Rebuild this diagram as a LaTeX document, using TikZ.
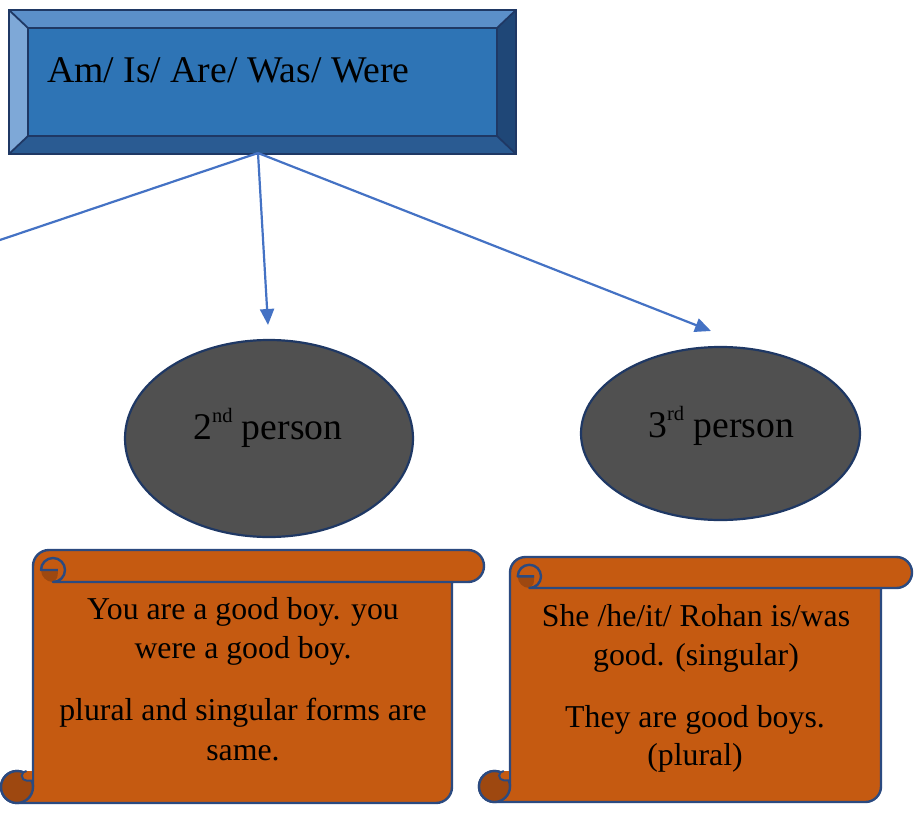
\documentclass[tikz,border=0pt]{standalone}
\usepackage{fontspec}
\setmainfont{Liberation Serif}
\usetikzlibrary{shapes.geometric,arrows.meta}
\definecolor{bevface}{HTML}{2E74B5}
\definecolor{bevtop}{HTML}{5B8FC9}
\definecolor{bevleft}{HTML}{7EA8D7}
\definecolor{bevright}{HTML}{1F4777}
\definecolor{bevbot}{HTML}{2A5B92}
\definecolor{navy}{HTML}{1F3864}
\definecolor{arrowblue}{HTML}{4472C4}
\definecolor{ovalgray}{HTML}{505050}
\definecolor{scrollor}{HTML}{C55A11}
\definecolor{scrolldk}{HTML}{9E4810}
\definecolor{scrollline}{HTML}{2B4A80}

\newcommand\myscroll[6]{% outer-left, body-left, body-right, outer-right, top, bottom (pixel y downward)
 \pgfmathsetmacro\scR{(#2-#1)/2}%
 \pgfmathsetmacro\scYm{-#5-\scR}%
 \pgfmathsetmacro\scYr{-#5-2*\scR}%
 \pgfmathsetmacro\scXe{#4-\scR}%
 \pgfmathsetmacro\scBy{-#6+\scR}%
 \pgfmathsetmacro\scBx{#1+\scR}%
 \pgfmathsetmacro\scCx{#2+1.25*\scR}%
 \pgfmathsetmacro\scCy{-#5-1.25*\scR}%
 \pgfmathsetmacro\scLr{0.75*\scR}%
 \pgfmathsetmacro\scLx{\scCx-\scLr}%
 \pgfmathsetmacro\scDx{\scCx+0.3*\scR}%
 \pgfmathsetmacro\scDy{\scCy-0.5*\scR}%
 \pgfmathsetmacro\scNy{\scBy+0.4*\scR}%
 \pgfmathsetmacro\scNr{0.3*\scR}%
 \pgfmathsetmacro\scNx{#2-0.4*\scR}%
 \pgfmathsetmacro\scNt{\scNy+0.6*\scR}%
 \filldraw[scrollstyle] (#2,\scYm) arc[start angle=180,end angle=90,radius=\scR]
   -- (\scXe,-#5) arc[start angle=90,end angle=-90,radius=\scR]
   -- (#3,\scYr) -- (#3,\scBy) arc[start angle=0,end angle=-90,radius=\scR]
   -- (\scBx,-#6) arc[start angle=270,end angle=0,radius=\scR] -- cycle;
 % bottom curl
 \filldraw[fill=scrolldk,draw=scrollline,line width=2.4pt] (\scBx,\scBy) circle[radius=\scR];
 \fill[scrollor] (#2-1.2,\scNt) -- (\scNx,\scNt)
     arc[start angle=90,end angle=270,radius=\scNr] -- (#2-1.2,\scNy) -- cycle;
 \draw[scrollline,line width=2pt] (\scNx,\scNt)
     arc[start angle=90,end angle=270,radius=\scNr] -- (#2,\scNy);
 \draw[scrollline,line width=2.4pt] (#2,\scNt+2) -- (#2,\scBy);
 % top curl
 \fill[scrolldk] (\scLx,\scCy) -- (\scDx,\scCy) .. controls (\scDx,\scDy) .. (\scCx,\scYr)
   arc[start angle=-90,end angle=-180,radius=\scLr] -- cycle;
 \draw[scrollline,line width=2.4pt,line join=round] (#3,\scYr) -- (\scCx,\scYr)
   arc[start angle=-90,end angle=180,radius=\scLr] -- (\scDx,\scCy);
}

\tikzset{
 bevelline/.style={draw=navy,line width=1.8pt,line join=miter},
 scrollstyle/.style={fill=scrollor,draw=scrollline,line width=2.4pt,line join=round},
 oval/.style={ellipse,fill=ovalgray,draw=navy,line width=2.2pt,inner sep=0pt},
 conn/.style={draw=arrowblue,line width=2.2pt},
 connarrow/.style={conn,-{Triangle[length=16pt,width=14pt]}},
 scrolltext/.style={anchor=base,inner sep=0pt,font=\fontsize{31.8}{39.5}\selectfont},
 bigtext/.style={inner sep=0pt,font=\fontsize{37.7}{44}\selectfont}
}

\begin{document}
\begin{tikzpicture}[x=1pt,y=1pt]
\useasboundingbox (0,0) rectangle (914,-814);
\clip (0,0) rectangle (914,-814);

% bevel box
\node[minimum width=507pt,minimum height=144pt,inner sep=0pt] (box) at (262.5,-82) {};
\fill[bevtop] (9,-10) -- (516,-10) -- (497,-28) -- (28,-28) -- cycle;
\fill[bevleft] (9,-10) -- (28,-28) -- (28,-136) -- (9,-154) -- cycle;
\fill[bevright] (516,-10) -- (516,-154) -- (497,-136) -- (497,-28) -- cycle;
\fill[bevbot] (9,-154) -- (28,-136) -- (497,-136) -- (516,-154) -- cycle;
\fill[bevface] (28,-28) rectangle (497,-136);
\draw[bevelline] (9,-10) rectangle (516,-154);
\draw[bevelline] (28,-28) rectangle (497,-136);
\draw[bevelline] (9,-10) -- (28,-28) (516,-10) -- (497,-28) (9,-154) -- (28,-136) (516,-154) -- (497,-136);
\node[bigtext,anchor=base west] (ttl) at (47,-82) {Am/ Is/ Are/ Was/ Were};

% ovals
\node[oval,minimum width=288pt,minimum height=197pt] (p2) at (269,-438.5) {};
\node[oval,minimum width=279pt,minimum height=173pt] (p3) at (720.5,-433.5) {};
\node[bigtext,anchor=base west] (p2t) at (193,-439)
  {2\raisebox{17pt}{\fontsize{20.5}{20}\selectfont nd} person};
\node[bigtext,anchor=base west] (p3t) at (648,-437.5)
  {3\raisebox{17pt}{\fontsize{20.5}{20}\selectfont rd} person};

% connectors
\coordinate (hub) at (258,-153);
\coordinate (tip2) at (268,-325);
\coordinate (tip3) at (711,-331);
\coordinate (offleft) at (-3,-241);
\draw[conn] (hub) -- (offleft);
\draw[connarrow] (hub) -- (tip2);
\draw[connarrow] (hub) -- (tip3);

% scrolls
\myscroll{1}{33}{452}{484}{550}{803}
\myscroll{479}{510}{881}{912}{557}{802}

\node[scrolltext] (a1) at (243,-619) {You are a good boy. you};
\node[scrolltext] (a2) at (243,-658) {were a good boy.};
\node[scrolltext] (a3) at (243,-720) {plural and singular forms are};
\node[scrolltext] (a4) at (243,-760) {same.};

\node[scrolltext] (b1) at (696,-626) {She /he/it/ Rohan is/was};
\node[scrolltext] (b2) at (696,-665) {good. (singular)};
\node[scrolltext] (b3) at (695,-727) {They are good boys.};
\node[scrolltext] (b4) at (695,-765) {(plural)};
\end{tikzpicture}
\end{document}
